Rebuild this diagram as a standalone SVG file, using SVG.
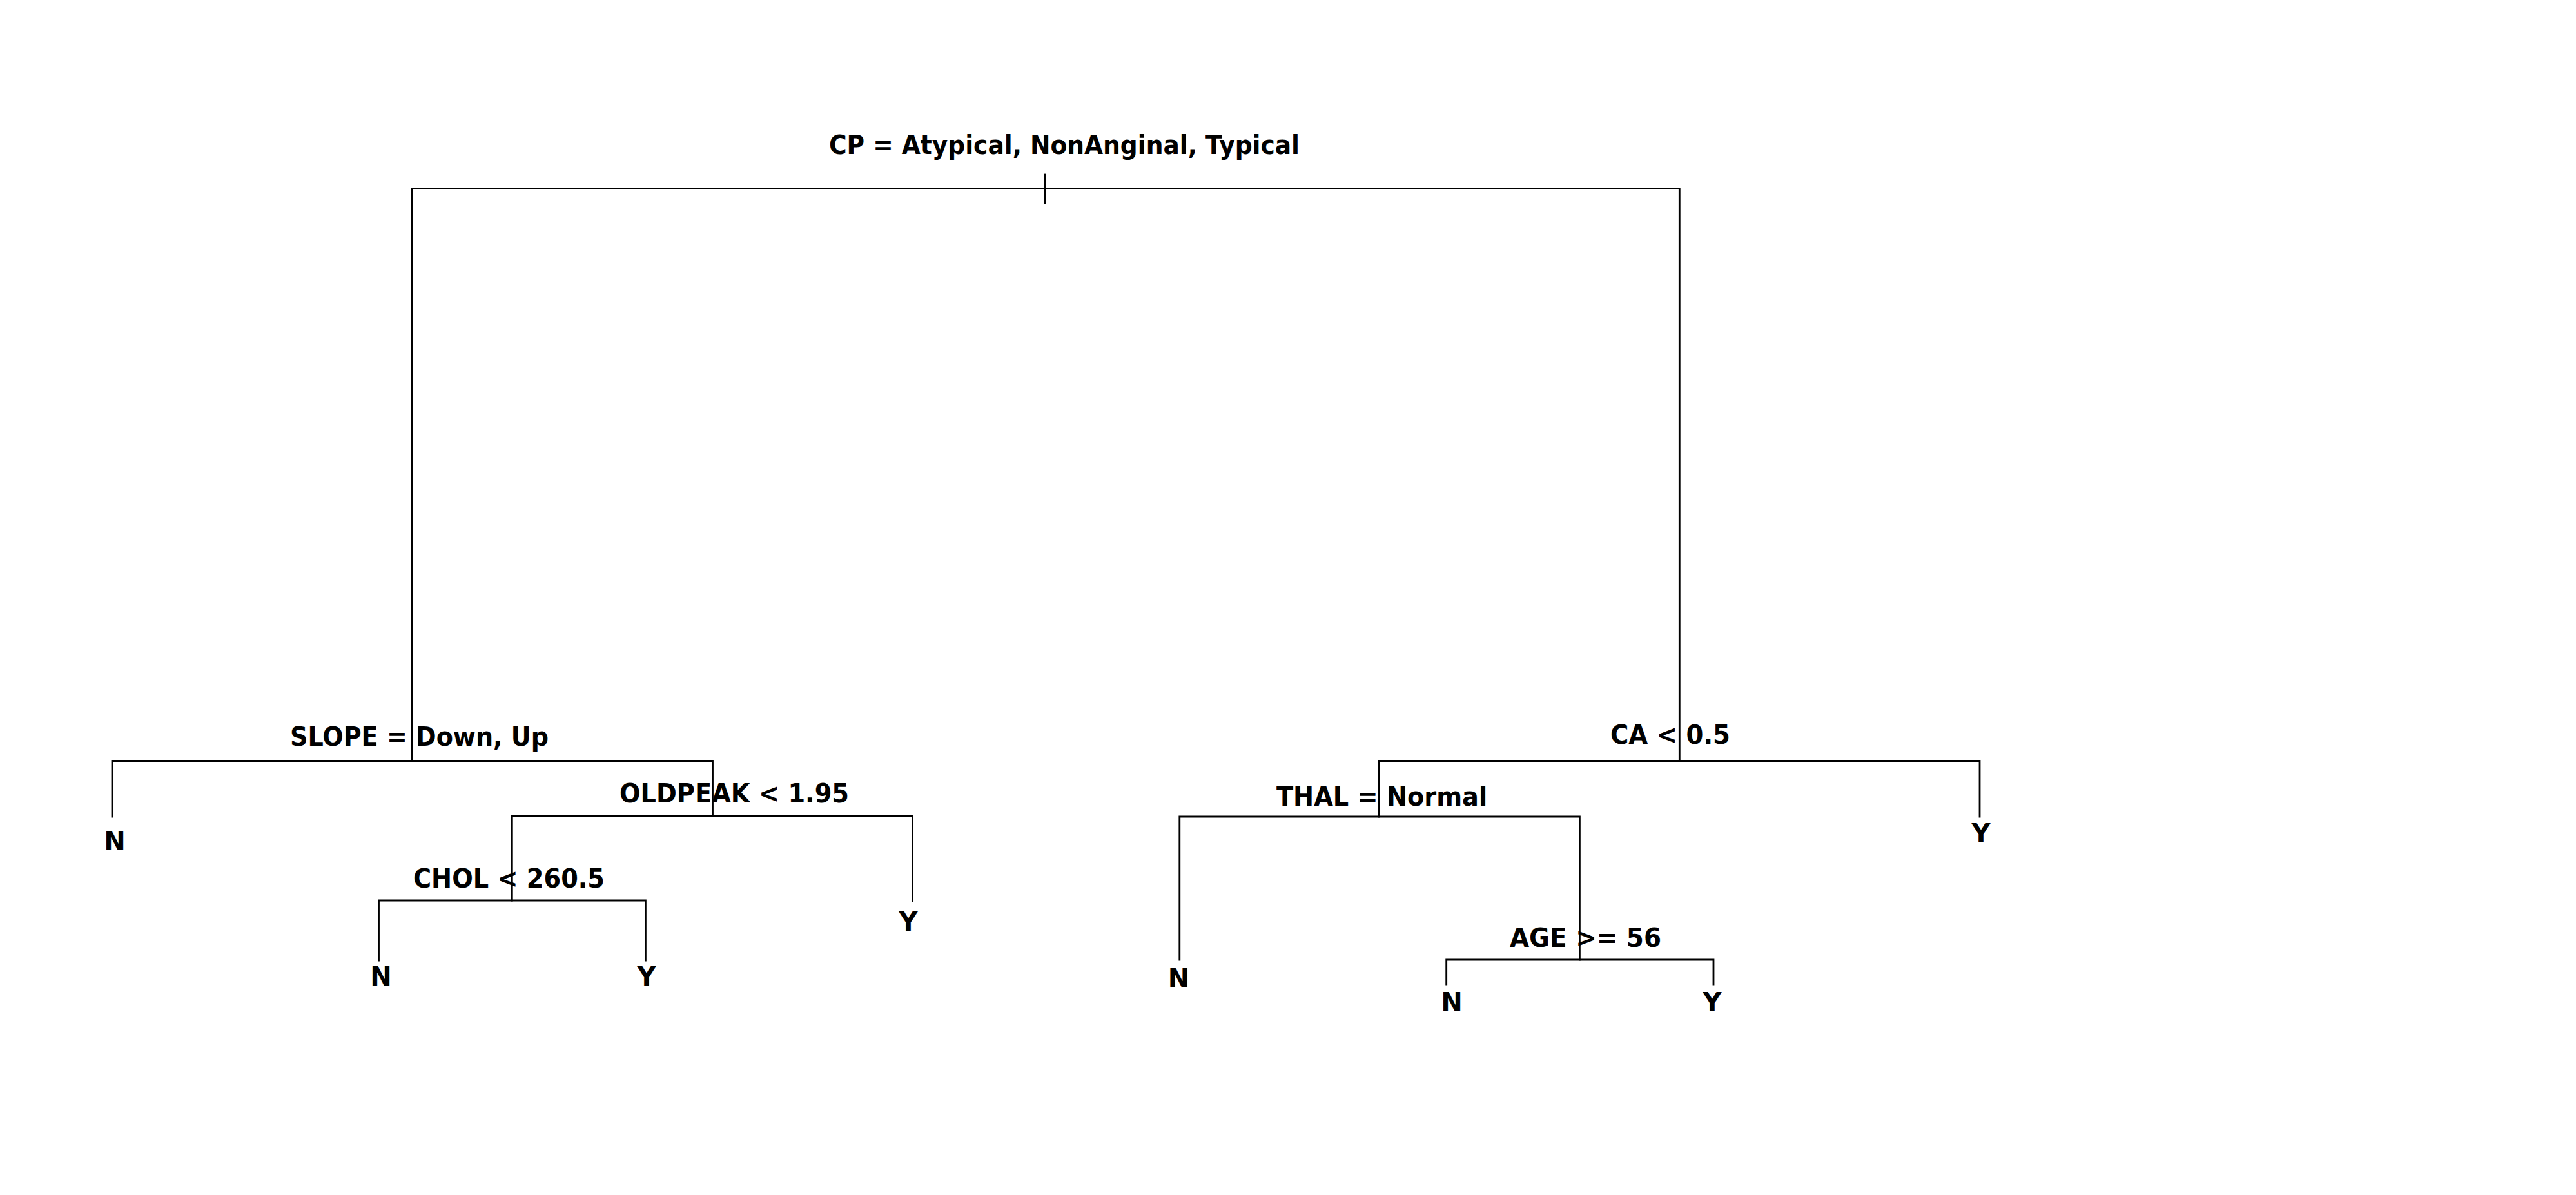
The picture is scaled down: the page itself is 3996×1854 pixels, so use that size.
<svg xmlns="http://www.w3.org/2000/svg" width="3996" height="1854" viewBox="0 0 3996 1854">
<style>
.e{fill:none;stroke:#000;stroke-width:2.8;stroke-linecap:square;stroke-linejoin:miter}
.t{font-family:"DejaVu Sans","Liberation Sans",sans-serif;font-weight:bold;font-size:40px;fill:#000}
.l{text-anchor:middle}
</style>
<rect width="3996" height="1854" fill="#fff"/>
<g id="connectors">
<path class="e" d="M639.3,1180 V292.3 H2605.3 V1180"/>
<path class="e" d="M1621,271 V315"/>
<path class="e" d="M174,1267 V1180.5 H1105.5 V1266.5"/>
<path class="e" d="M794.3,1397 V1266.5 H1415.6 V1398"/>
<path class="e" d="M587.5,1490 V1397 H1001.4 V1490"/>
<path class="e" d="M2139.3,1267 V1180.5 H3071 V1267"/>
<path class="e" d="M1829.8,1489 V1267 H2450.4 V1489"/>
<path class="e" d="M2243.7,1527 V1489 H2658 V1527"/>
</g>
<g id="n-root"><text class="t" x="1286" y="239" textLength="730" lengthAdjust="spacingAndGlyphs">CP = Atypical, NonAnginal, Typical</text></g>
<g id="n-slope"><text class="t" x="450" y="1157" textLength="401" lengthAdjust="spacingAndGlyphs">SLOPE = Down, Up</text></g>
<g id="n-oldpeak"><text class="t" x="961" y="1245" textLength="356" lengthAdjust="spacingAndGlyphs">OLDPEAK &lt; 1.95</text></g>
<g id="n-chol"><text class="t" x="641" y="1376.5" textLength="297" lengthAdjust="spacingAndGlyphs">CHOL &lt; 260.5</text></g>
<g id="n-ca"><text class="t" x="2498" y="1154" textLength="186" lengthAdjust="spacingAndGlyphs">CA &lt; 0.5</text></g>
<g id="n-thal"><text class="t" x="1980" y="1250" textLength="327" lengthAdjust="spacingAndGlyphs">THAL = Normal</text></g>
<g id="n-age"><text class="t" x="2342" y="1469" textLength="235" lengthAdjust="spacingAndGlyphs">AGE &gt;= 56</text></g>
<g id="leaf-1"><text class="t l" x="178" y="1319">N</text></g>
<g id="leaf-2"><text class="t l" x="591" y="1529">N</text></g>
<g id="leaf-3"><text class="t l" x="1003" y="1529">Y</text></g>
<g id="leaf-4"><text class="t l" x="1409" y="1444">Y</text></g>
<g id="leaf-5"><text class="t l" x="1828.5" y="1532">N</text></g>
<g id="leaf-6"><text class="t l" x="2252" y="1569">N</text></g>
<g id="leaf-7"><text class="t l" x="2656" y="1569">Y</text></g>
<g id="leaf-8"><text class="t l" x="3073" y="1307">Y</text></g>
</svg>
